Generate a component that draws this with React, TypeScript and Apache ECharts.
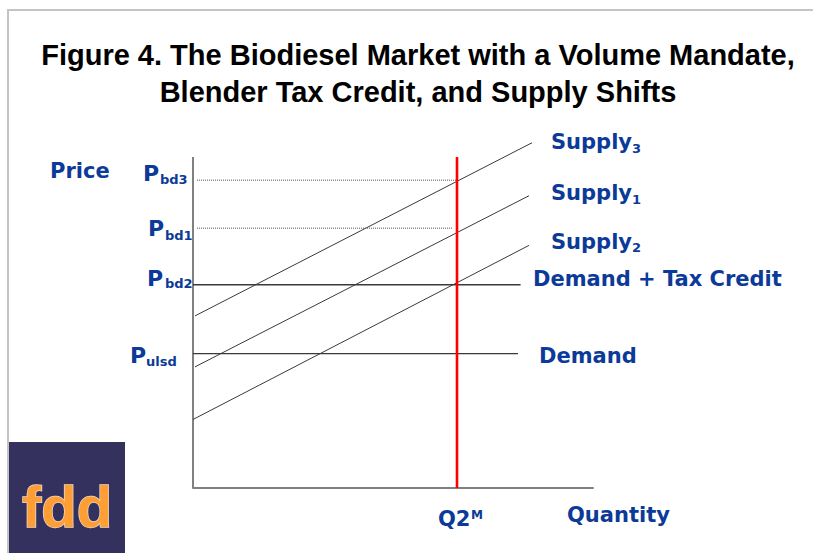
import React, { useEffect, useRef } from "react";
import * as echarts from "echarts";

// ---- data ----
const quantityDomain = [0, 100];
const priceDomain = [0, 110];
const axisTopPrice = 100;
const mandateQuantity = 66;

const supply3 = [[0.5, 52.0], [84.75, 104.3]];
const supply1 = [[0.5, 36.6], [84, 88.3]];
const supply2 = [[0, 20.7], [84, 73.3]];

const priceBd3 = 93.0;
const priceBd1 = 78.5;
const priceBd2 = 61.4;
const priceUlsd = 40.6;

const bd3Extent = [1, 66];
const bd1Extent = [1, 65];
const bd2Extent = [0, 81.9];
const ulsdExtent = [0, 81.25];

const titleLines = [
  "Figure 4. The Biodiesel Market with a Volume Mandate,",
  "Blender Tax Credit, and Supply Shifts",
];

const BLUE = "#0b3a98";
const LINE = "#3a3a3a";
const AXIS = "#808080";
const VFONT = '"DejaVu Sans", Verdana, sans-serif';

function seg(name: string, data: number[][], color: string, width: number, type: any = "solid", z = 2) {
  return {
    type: "line",
    name,
    data,
    symbol: "none",
    silent: true,
    clip: false,
    z,
    lineStyle: { color, width, type },
  };
}

function txt(text: string, x: number, y: number, size: number, opts: any = {}) {
  return {
    type: "text",
    x,
    y,
    silent: true,
    z: 100,
    style: {
      text,
      fill: opts.fill || BLUE,
      font: `bold ${size}px ${opts.family || VFONT}`,
      align: opts.align || "left",
      textAlign: opts.align || "left",
      verticalAlign: "middle",
      textVerticalAlign: "middle",
      lineHeight: opts.lineHeight,
    },
  };
}

export default function App() {
  const ref = useRef<HTMLDivElement>(null);
  useEffect(() => {
    const chart = echarts.init(ref.current!, null, { renderer: "svg" });
    chart.setOption({
      animation: false,
      backgroundColor: "#ffffff",
      grid: { left: 193, right: 220, top: 488 - 110 * 3.31, bottom: 65 },
      xAxis: {
        type: "value",
        min: quantityDomain[0],
        max: quantityDomain[1],
        axisLine: { show: true, lineStyle: { color: AXIS, width: 2 } },
        axisTick: { show: false },
        axisLabel: { show: false },
        splitLine: { show: false },
      },
      yAxis: {
        type: "value",
        min: priceDomain[0],
        max: priceDomain[1],
        axisLine: { show: false },
        axisTick: { show: false },
        axisLabel: { show: false },
        splitLine: { show: false },
      },
      series: [
        seg("Price axis", [[0, 0], [0, axisTopPrice]], AXIS, 2),
        seg("Supply3", supply3, LINE, 1),
        seg("Supply1", supply1, LINE, 1),
        seg("Supply2", supply2, LINE, 1),
        seg("Pbd3", [[bd3Extent[0], priceBd3], [bd3Extent[1], priceBd3]], "#555555", 1, "dotted"),
        seg("Pbd1", [[bd1Extent[0], priceBd1], [bd1Extent[1], priceBd1]], "#555555", 1, "dotted"),
        seg("Demand + Tax Credit", [[bd2Extent[0], priceBd2], [bd2Extent[1], priceBd2]], LINE, 1.3),
        seg("Demand", [[ulsdExtent[0], priceUlsd], [ulsdExtent[1], priceUlsd]], LINE, 1.3),
        seg("Mandate Q2M", [[mandateQuantity, 0], [mandateQuantity, axisTopPrice]], "#ff0000", 2.6, "solid", 5),
      ],
      graphic: [
        {
          type: "rect",
          silent: true,
          z: 0,
          shape: { x: 8, y: 10, width: 900, height: 700 },
          style: { fill: "none", stroke: "#c4c4c4", lineWidth: 2 },
        },
        txt(titleLines[0], 418, 55, 29, { fill: "#000", align: "center", family: '"Liberation Sans", Arial, sans-serif' }),
        txt(titleLines[1], 418, 92, 29, { fill: "#000", align: "center", family: '"Liberation Sans", Arial, sans-serif' }),
        txt("Price", 50, 171, 21),
        txt("P", 143, 173, 22), txt("bd3", 160, 179, 13),
        txt("P", 148, 228, 22), txt("bd1", 165, 235, 13),
        txt("P", 147, 278, 22), txt("bd2", 165, 283, 13),
        txt("P", 130, 355, 22), txt("ulsd", 146, 361, 13),
        txt("Supply", 551, 142, 21), txt("3", 632, 148.7, 13),
        txt("Supply", 551, 193, 21), txt("1", 632, 199, 13),
        txt("Supply", 551, 241.5, 21), txt("2", 632, 247.5, 13),
        txt("Demand + Tax Credit", 533, 278.5, 21),
        txt("Demand", 539, 355.5, 21),
        txt("Q2", 438, 518.5, 21), txt("M", 471, 515.3, 12),
        txt("Quantity", 567, 514.5, 21),
        {
          type: "rect",
          silent: true,
          z: 50,
          shape: { x: 9, y: 442, width: 116, height: 120 },
          style: { fill: "#35315f" },
        },
        {
          type: "text",
          x: 22,
          y: 506,
          silent: true,
          z: 60,
          style: {
            text: "fdd",
            fill: "#ff9e35",
            stroke: "#e9dccb",
            lineWidth: 1.5,
            font: 'bold 58px "Liberation Sans", Arial, sans-serif',
            align: "left",
            textAlign: "left",
            verticalAlign: "middle",
            textVerticalAlign: "middle",
          },
        },
      ],
    });
    return () => chart.dispose();
  }, []);
  return (
    <div
      ref={ref}
      style={{ position: "fixed", left: 0, top: 0, width: 813, height: 553, background: "#fff" }}
    />
  );
}
